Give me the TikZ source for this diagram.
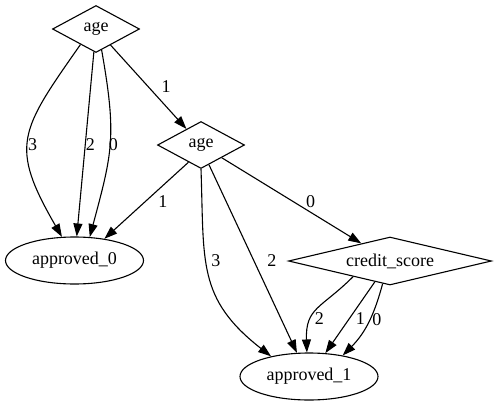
\documentclass[tikz,border=0pt]{standalone}
\usepackage{fontspec}
\setmainfont{Liberation Serif}
\usepackage{tikz}
\usetikzlibrary{shapes.geometric,arrows.meta}

\begin{document}
\begin{tikzpicture}[x=1pt,y=1pt,line width=1.1pt,font=\fontsize{18pt}{21pt}\selectfont]

  \tikzstyle{split}=[draw, diamond, aspect=1.85, inner sep=0pt, minimum width=87pt, minimum height=47pt]
  \tikzstyle{leaf}=[draw, ellipse, inner sep=0pt, minimum width=138pt, minimum height=47pt]
  \tikzstyle{value}=[inner sep=0pt]
  \tikzstyle{arc}=[-{Triangle[length=13pt,width=9pt]}]

  \useasboundingbox (0,0) rectangle (498,-407);

  \path
  (96,-29)   node[split](agetop){age}
  (201,-145) node[split](agemid){age}
  (390,-261) node[split, aspect=4.2, minimum width=203pt, minimum height=48pt](credit){credit\_score};

  \path
  (74.5,-260.5) node[leaf](appzero){approved\_0}
  (309,-376.5)  node[leaf](appone){approved\_1};

  \draw[arc] (agetop.225) to[out=235,in=120,looseness=1.4] node[value,pos=0.5,xshift=4pt,yshift=-6pt]{3} (appzero.118);
  \draw[arc] (agetop) -- node[value,pos=0.5,xshift=5pt]{2} (appzero);
  \draw[arc] (agetop.285) to[out=280,in=75,looseness=1.2] node[value,pos=0.5,xshift=3.5pt]{0} (appzero.57);
  \draw[arc] (agetop) -- node[value,pos=0.5,xshift=17.5pt]{1} (agemid);

  \draw[arc] (agemid.234) -- node[value,pos=0.52,xshift=18pt]{1} (appzero.36);
  \draw[arc] (agemid) -- node[value,pos=0.5,xshift=19pt,yshift=-1pt]{0} (credit);
  \draw[arc] (agemid.south) to[out=-88,in=142,looseness=1.2] node[value,pos=0.4,xshift=10pt,yshift=-2pt]{3} (appone.152);
  \draw[arc] (agemid.292) -- node[value,pos=0.51,xshift=18pt]{2} (appone.117);

  \draw[arc] (credit.203) to[out=225,in=92,looseness=1.3] node[value,pos=0.6,xshift=6pt,yshift=-3pt]{2} (appone.95);
  \draw[arc] (credit.234) -- node[value,pos=0.514,xshift=11pt]{1} (appone.55);
  \draw[arc] (credit.252) to[out=255,in=45] node[value,pos=0.45,xshift=7pt]{0} (appone.32);

\end{tikzpicture}
\end{document}
